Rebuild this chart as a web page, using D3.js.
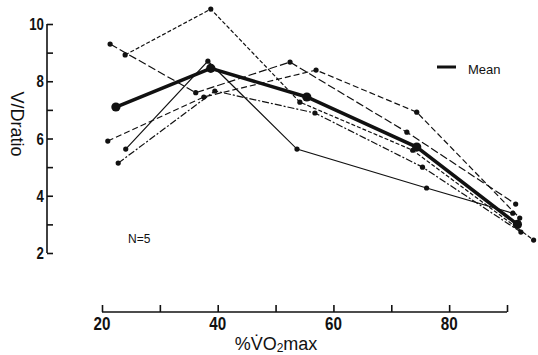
<!DOCTYPE html>
<html>
<head>
<meta charset="utf-8">
<script src="https://cdn.jsdelivr.net/npm/d3@7"></script>
<style>
  body { margin: 0; background: #fff; }
  svg { display: block; }
</style>
</head>
<body>
<div id="chart"></div>
<script>
// %VO2max (x) and V/D ratio (y) for each subject
var subjA_x = [21.4, 36.2, 52.5, 72.7, 91.5]
var subjA_y = [9.3, 7.6, 8.67, 6.22, 3.71]
var subjB_x = [24.0, 38.8, 54.2, 73.7, 94.6]
var subjB_y = [8.92, 10.52, 7.27, 5.59, 2.45]
var subjC_x = [24.1, 38.3, 53.7, 76.1, 91.0]
var subjC_y = [5.63, 8.7, 5.63, 4.27, 3.39]
var subjD_x = [21.0, 37.6, 57.0, 74.4, 92.2]
var subjD_y = [5.91, 7.45, 8.39, 6.92, 3.22]
var subjE_x = [22.8, 39.5, 56.8, 75.4, 92.4]
var subjE_y = [5.14, 7.66, 6.89, 5.0, 2.73]
var mean_x = [22.4, 38.8, 55.4, 74.4, 91.8]
var mean_y = [7.1, 8.45, 7.45, 5.7, 3.0]

var xTicks = [20, 30, 40, 50, 60, 70, 80, 90]
var xLabels = [20, 40, 60, 80]
var yTicks = [2, 3, 4, 5, 6, 7, 8, 9, 10]
var yLabels = [2, 4, 6, 8, 10]

var svg = d3.select('#chart')
    .append('svg')
    .attr('width', 538)
    .attr('height', 355)

var x = d3.scaleLinear().domain([20, 90]).range([102, 507])
var y = d3.scaleLinear().domain([2, 10]).range([253, 24])

var numFont = '"Liberation Sans", Arial, sans-serif'

// y axis, ticks point inwards
var yAxis = svg.append('g')
    .attr('transform', 'translate(' + 47 + ',0)')
    .call(d3.axisRight(y).tickValues(yTicks).tickSize(6).tickFormat(''))
yAxis.select('.domain').attr('d', 'M0,' + y(2) + 'V' + y(10))
yAxis.selectAll('path, line').attr('stroke', '#111').attr('stroke-width', 1.6)

// tick numbers are tall and narrow, squeeze them sideways
svg.selectAll('.ylab')
    .data(yLabels)
    .enter()
    .append('text')
    .attr('class', 'ylab')
    .attr('transform', (d) => 'translate(44,' + (y(d) + 6) + ') scale(0.78,1)')
    .attr('text-anchor', 'end')
    .attr('font-family', numFont)
    .attr('font-weight', 'bold')
    .attr('font-size', 17)
    .attr('fill', '#111')
    .text((d) => d)

// x axis, ticks point up
var xAxis = svg.append('g')
    .attr('transform', 'translate(0,' + 312 + ')')
    .call(d3.axisTop(x).tickValues(xTicks).tickSize(7).tickFormat(''))
xAxis.select('.domain').attr('d', 'M' + x(20) + ',0H' + x(90))
xAxis.selectAll('path, line').attr('stroke', '#111').attr('stroke-width', 1.6)

svg.selectAll('.xlab')
    .data(xLabels)
    .enter()
    .append('text')
    .attr('class', 'xlab')
    .attr('transform', (d) => 'translate(' + x(d) + ',330) scale(0.8,1)')
    .attr('text-anchor', 'middle')
    .attr('font-family', numFont)
    .attr('font-weight', 'bold')
    .attr('font-size', 19)
    .attr('fill', '#111')
    .text((d) => d)

// axis titles
var xTitle = svg.append('text')
    .attr('x', 276)
    .attr('y', 350)
    .attr('text-anchor', 'middle')
    .attr('font-family', '"Liberation Sans", Arial, sans-serif')
    .attr('font-size', 18)
    .attr('fill', '#111')
xTitle.append('tspan').text('%V\u0307O')
xTitle.append('tspan').attr('font-size', 12).attr('dy', 2).text('2')
xTitle.append('tspan').attr('dy', -2).text('max')

svg.append('text')
    .attr('transform', 'translate(11,124) rotate(90)')
    .attr('text-anchor', 'middle')
    .attr('font-family', '"Liberation Sans", Arial, sans-serif')
    .attr('font-size', 18)
    .attr('fill', '#111')
    .text('V/Dratio')

// subject lines
var subjects = [
    { xs: subjA_x, ys: subjA_y, dash: '8,3' },
    { xs: subjB_x, ys: subjB_y, dash: '4,2' },
    { xs: subjC_x, ys: subjC_y, dash: null },
    { xs: subjD_x, ys: subjD_y, dash: '6,3' },
    { xs: subjE_x, ys: subjE_y, dash: '7,2,2,2' }
]

var line = d3.line()
    .x((d) => x(d[0]))
    .y((d) => y(d[1]))

subjects.forEach(function (s) {
    var pts = d3.zip(s.xs, s.ys)
    svg.append('path')
        .datum(pts)
        .attr('d', line)
        .attr('fill', 'none')
        .attr('stroke', '#111')
        .attr('stroke-width', 1.2)
        .attr('stroke-dasharray', s.dash)
    svg.selectAll(null)
        .data(pts)
        .enter()
        .append('circle')
        .attr('cx', (d) => x(d[0]))
        .attr('cy', (d) => y(d[1]))
        .attr('r', 2.6)
        .attr('fill', '#111')
})

// mean line
var meanPts = d3.zip(mean_x, mean_y)
svg.append('path')
    .datum(meanPts)
    .attr('d', line)
    .attr('fill', 'none')
    .attr('stroke', '#111')
    .attr('stroke-width', 3.5)
svg.selectAll(null)
    .data(meanPts)
    .enter()
    .append('circle')
    .attr('cx', (d) => x(d[0]))
    .attr('cy', (d) => y(d[1]))
    .attr('r', 4.6)
    .attr('fill', '#111')

// legend
svg.append('line')
    .attr('x1', 437).attr('x2', 456)
    .attr('y1', 67).attr('y2', 67)
    .attr('stroke', '#111')
    .attr('stroke-width', 3)
svg.append('text')
    .attr('x', 468)
    .attr('y', 74)
    .attr('font-family', '"Liberation Sans", Arial, sans-serif')
    .attr('font-size', 13)
    .attr('fill', '#111')
    .text('Mean')

svg.append('text')
    .attr('x', 128)
    .attr('y', 243)
    .attr('font-family', '"Liberation Sans", Arial, sans-serif')
    .attr('font-size', 12)
    .attr('fill', '#111')
    .text('N=5')
</script>
</body>
</html>
